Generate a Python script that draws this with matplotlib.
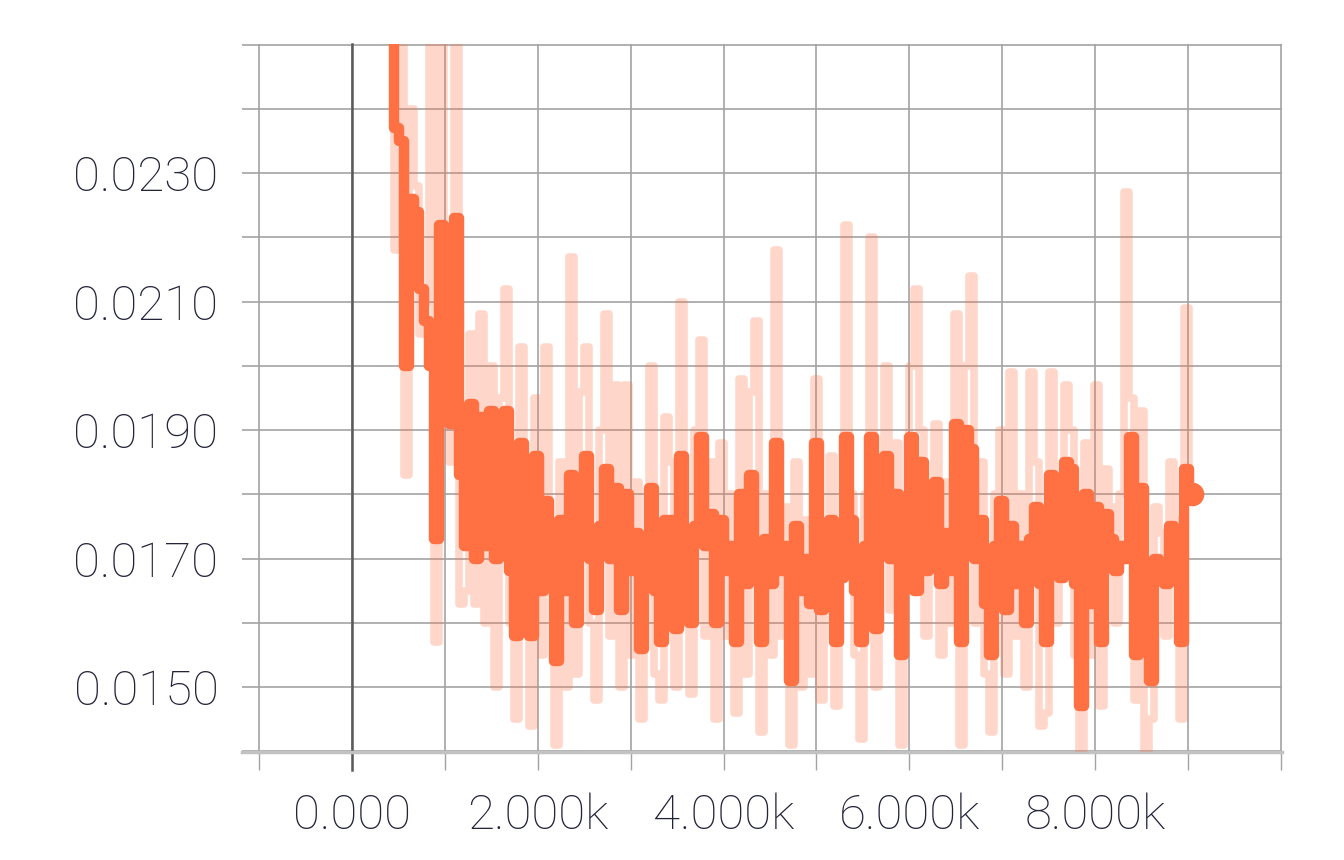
import numpy as np
import matplotlib
matplotlib.use('Agg')
import matplotlib.pyplot as plt

# 字体：细体无衬线
plt.rcParams['font.family'] = ['Roboto', 'DejaVu Sans']

# 训练步数：首个记录点与记录间隔
step_first = 430
step_every = 53.8

# 平滑后的 loss（深色曲线）
loss_smoothed = [
    0.0258, 0.0237, 0.0235, 0.0200, 0.0226, 0.0224, 0.0212, 0.0207, 0.0200, 0.0173,
    0.0222, 0.0204, 0.0191, 0.0223, 0.0183, 0.0172, 0.0194, 0.0170, 0.0192, 0.0172,
    0.0193, 0.0170, 0.0190, 0.0193, 0.0168, 0.0158, 0.0188, 0.0176, 0.0158, 0.0186,
    0.0165, 0.0179, 0.0170, 0.0154, 0.0176, 0.0165, 0.0183, 0.0160, 0.0180, 0.0186,
    0.0170, 0.0162, 0.0175, 0.0184, 0.0170, 0.0181, 0.0162, 0.0180, 0.0168, 0.0174,
    0.0156, 0.0170, 0.0181, 0.0165, 0.0157, 0.0176, 0.0176, 0.0159, 0.0186, 0.0170,
    0.0160, 0.0175, 0.0189, 0.0172, 0.0177, 0.0160, 0.0176, 0.0168, 0.0172, 0.0157,
    0.0180, 0.0166, 0.0183, 0.0170, 0.0157, 0.0173, 0.0166, 0.0188, 0.0168, 0.0172,
    0.0151, 0.0175, 0.0165, 0.0170, 0.0163, 0.0188, 0.0162, 0.0168, 0.0176, 0.0157,
    0.0167, 0.0189, 0.0176, 0.0165, 0.0157, 0.0172, 0.0189, 0.0159, 0.0174, 0.0186,
    0.0170, 0.0180, 0.0155, 0.0171, 0.0189, 0.0165, 0.0185, 0.0168, 0.0172, 0.0182,
    0.0166, 0.0174, 0.0168, 0.0191, 0.0157, 0.0190, 0.0187, 0.0170, 0.0176, 0.0163,
    0.0155, 0.0172, 0.0179, 0.0162, 0.0175, 0.0166, 0.0172, 0.0160, 0.0173, 0.0178,
    0.0166, 0.0157, 0.0183, 0.0170, 0.0167, 0.0185, 0.0184, 0.0166, 0.0147, 0.0180,
    0.0163, 0.0178, 0.0157, 0.0177, 0.0173, 0.0168, 0.0172, 0.0170, 0.0189, 0.0155,
    0.0181, 0.0166, 0.0151, 0.0170, 0.0168, 0.0166, 0.0175, 0.0171, 0.0157, 0.0184,
    0.0180,
]

# 原始 loss（浅色曲线）
loss_raw = [
    0.0262, 0.0218, 0.0255, 0.0183, 0.0240, 0.0228, 0.0205, 0.0210, 0.0258, 0.0157,
    0.0258, 0.0195, 0.0185, 0.0258, 0.0163, 0.0165, 0.0205, 0.0163, 0.0208, 0.0160,
    0.0200, 0.0150, 0.0195, 0.0212, 0.0160, 0.0145, 0.0203, 0.0172, 0.0144, 0.0195,
    0.0155, 0.0203, 0.0165, 0.0141, 0.0185, 0.0150, 0.0217, 0.0152, 0.0196, 0.0203,
    0.0160, 0.0148, 0.0190, 0.0208, 0.0158, 0.0197, 0.0150, 0.0197, 0.0155, 0.0182,
    0.0145, 0.0172, 0.0200, 0.0152, 0.0148, 0.0192, 0.0185, 0.0150, 0.0210, 0.0160,
    0.0149, 0.0190, 0.0204, 0.0158, 0.0185, 0.0145, 0.0188, 0.0158, 0.0180, 0.0146,
    0.0198, 0.0152, 0.0196, 0.0207, 0.0143, 0.0180, 0.0155, 0.0218, 0.0158, 0.0178,
    0.0141, 0.0185, 0.0150, 0.0176, 0.0152, 0.0198, 0.0148, 0.0170, 0.0186, 0.0147,
    0.0175, 0.0222, 0.0180, 0.0155, 0.0142, 0.0180, 0.0220, 0.0150, 0.0182, 0.0200,
    0.0162, 0.0188, 0.0141, 0.0176, 0.0200, 0.0212, 0.0190, 0.0158, 0.0178, 0.0191,
    0.0155, 0.0182, 0.0160, 0.0208, 0.0141, 0.0200, 0.0214, 0.0160, 0.0185, 0.0152,
    0.0143, 0.0180, 0.0190, 0.0152, 0.0199, 0.0158, 0.0180, 0.0150, 0.0199, 0.0185,
    0.0144, 0.0146, 0.0199, 0.0160, 0.0175, 0.0197, 0.0190, 0.0155, 0.0140, 0.0188,
    0.0155, 0.0197, 0.0147, 0.0184, 0.0178, 0.0160, 0.0180, 0.0227, 0.0195, 0.0148,
    0.0193, 0.0140, 0.0145, 0.0178, 0.0174, 0.0158, 0.0185, 0.0176, 0.0145, 0.0209,
    0.0179,
]

x_ticks = [-1000, 0, 1000, 2000, 3000, 4000, 5000, 6000, 7000, 8000, 9000, 10000]
x_tick_labels = ['', '0.000', '', '2.000k', '', '4.000k', '', '6.000k', '', '8.000k', '', '']
y_ticks = [0.014, 0.015, 0.016, 0.017, 0.018, 0.019, 0.020, 0.021, 0.022, 0.023, 0.024, 0.025]
y_tick_labels = ['', '0.0150', '', '0.0170', '', '0.0190', '', '0.0210', '', '0.0230', '', '']

steps = step_first + step_every * np.arange(len(loss_smoothed))

orange = '#ff7043'
grid_grey = '#a3a3a3'
text_col = '#23233a'

fig = plt.figure(figsize=(13.44, 8.6), dpi=100)
ax = fig.add_axes([242 / 1344, 1 - 752 / 860, 1040 / 1344, 708 / 860])

ax.plot(steps, loss_raw, color=orange, alpha=0.28, lw=5.5, drawstyle='steps-mid',
        solid_joinstyle='round', solid_capstyle='round', zorder=3)
ax.plot(steps, loss_smoothed, color=orange, lw=7.5, drawstyle='steps-mid',
        solid_joinstyle='round', solid_capstyle='round', zorder=4)
ax.plot(steps[-1], loss_smoothed[-1], 'o', color=orange, ms=16, zorder=5)

ax.set_xlim(-1184, 10011)
ax.set_ylim(0.01399, 0.02501)
ax.set_xticks(x_ticks)
ax.set_xticklabels(x_tick_labels)
ax.set_yticks(y_ticks)
ax.set_yticklabels(y_tick_labels)

ax.grid(True, color=grid_grey, lw=1.2)
ax.set_axisbelow(True)
# 零点竖线更深
ax.axvline(0, ymin=-0.026, ymax=1, color='#5a5a5a', lw=1.8, zorder=1, clip_on=False)

for s in ['top', 'right', 'left']:
    ax.spines[s].set_visible(False)
ax.spines['bottom'].set_color('#c2c2c2')
ax.spines['bottom'].set_linewidth(2.5)

ax.tick_params(axis='x', length=13, width=1, color=grid_grey, pad=16,
               labelsize=35.5, labelcolor=text_col)
ax.tick_params(axis='y', length=0, pad=17, labelsize=35.5, labelcolor=text_col)
for lbl in ax.get_xticklabels() + ax.get_yticklabels():
    lbl.set_fontweight('light')

fig.savefig('out.png', dpi=100)
